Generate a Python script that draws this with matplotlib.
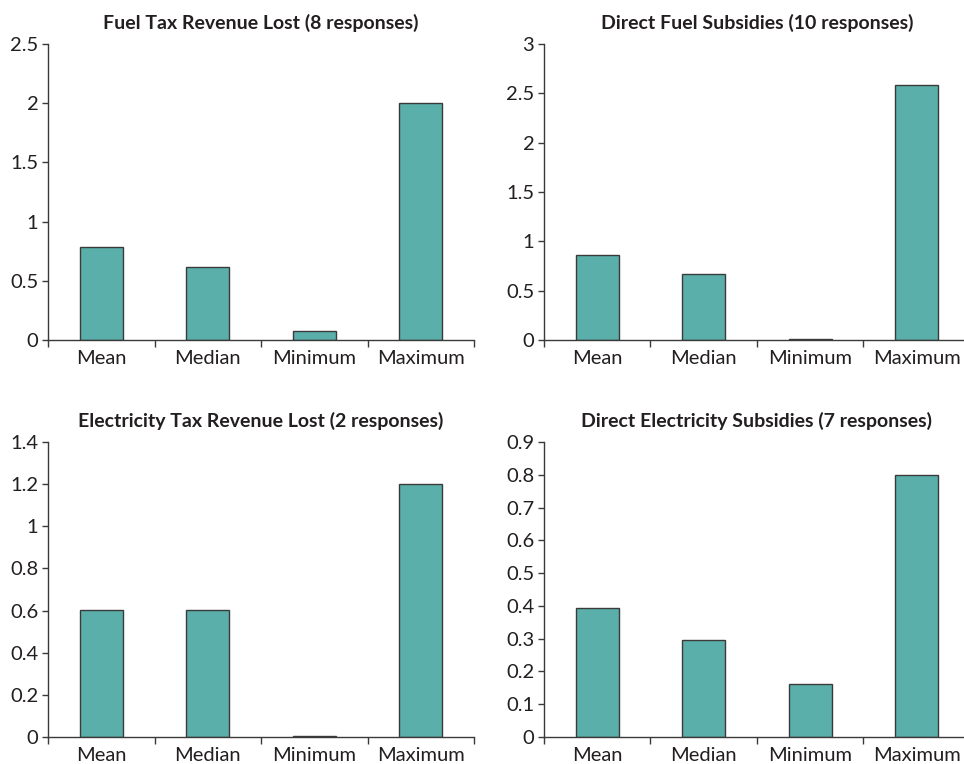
import matplotlib
matplotlib.use("Agg")
import matplotlib.pyplot as plt
from matplotlib.ticker import FixedLocator, FuncFormatter
import numpy as np

plt.rcParams['font.family'] = ['Lato', 'DejaVu Sans']

categories = ['Mean', 'Median', 'Minimum', 'Maximum']

titles = ['Fuel Tax Revenue Lost (8 responses)',
          'Direct Fuel Subsidies (10 responses)',
          'Electricity Tax Revenue Lost (2 responses)',
          'Direct Electricity Subsidies (7 responses)']

fuel_tax = [0.785, 0.62, 0.08, 2.0]
fuel_sub = [0.865, 0.67, 0.012, 2.58]
elec_tax = [0.605, 0.605, 0.006, 1.2]
elec_sub = [0.395, 0.295, 0.163, 0.80]

ymax = [2.5, 3.0, 1.4, 0.9]
ystep = [0.5, 0.5, 0.2, 0.1]

# axes boxes in figure fraction [left, bottom, width, height]
boxes = [[0.0498, 0.555, 0.4419, 0.3874],
         [0.5643, 0.555, 0.4419, 0.3874],
         [0.0498, 0.0353, 0.4419, 0.3861],
         [0.5643, 0.0353, 0.4419, 0.3861]]

bar_color = '#5BAFAA'
edge_color = '#3a3a3a'
text_color = '#231F20'

fig = plt.figure(figsize=(9.64, 7.64), dpi=100)

for data, title, top, step, box in zip([fuel_tax, fuel_sub, elec_tax, elec_sub],
                                        titles, ymax, ystep, boxes):
    ax = fig.add_axes(box)
    x = np.arange(len(categories))
    ax.bar(x, data, width=0.4, color=bar_color, edgecolor=edge_color, linewidth=1.0)
    ax.set_xlim(-0.5, len(categories) - 0.5)
    ax.set_ylim(0, top)
    ax.set_yticks(np.arange(0, top + step / 2, step))
    ax.yaxis.set_major_formatter(FuncFormatter(lambda v, p: f'{round(v, 2):g}'))
    ax.set_xticks(x)
    ax.set_xticklabels(categories)
    ax.xaxis.set_minor_locator(FixedLocator(np.arange(-0.5, len(categories), 1.0)))
    ax.tick_params(axis='x', which='major', length=0, pad=7, labelsize=14.5, labelcolor=text_color)
    ax.tick_params(axis='x', which='minor', length=5, width=1, color=edge_color, direction='out')
    ax.tick_params(axis='y', length=4, width=1, color=edge_color, direction='out', pad=3,
                   labelsize=14.5, labelcolor=text_color)
    for s in ['top', 'right']:
        ax.spines[s].set_visible(False)
    for s in ['left', 'bottom']:
        ax.spines[s].set_color(edge_color)
        ax.spines[s].set_linewidth(1.0)
    ax.set_title(title, fontsize=14, fontweight='bold', color=text_color, pad=11)

fig.savefig('out.png', dpi=100)
